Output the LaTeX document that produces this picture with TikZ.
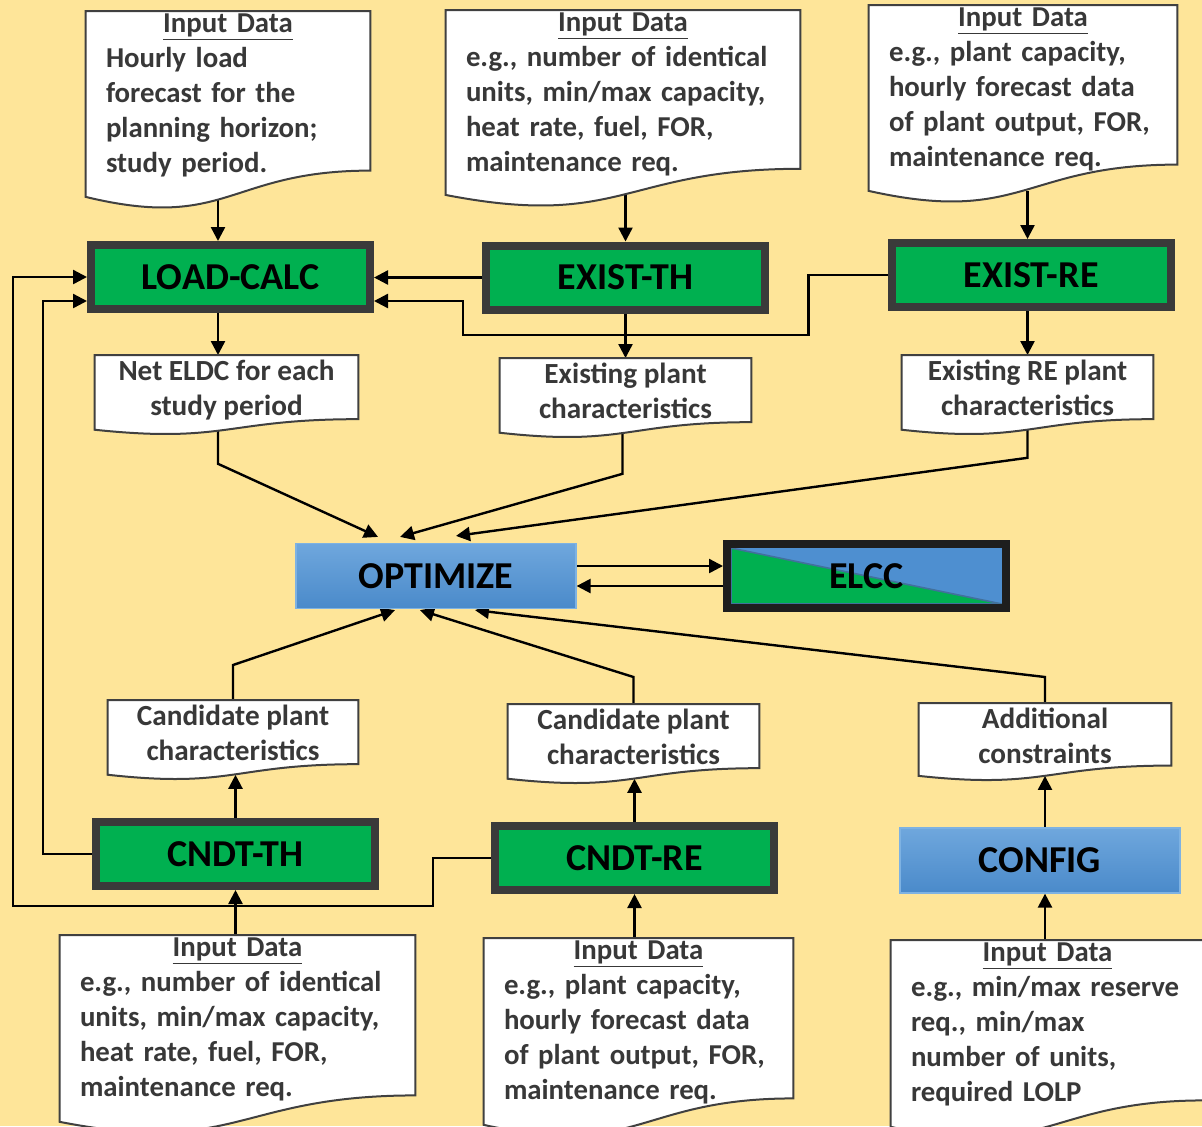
\documentclass[tikz,border=0pt]{standalone}
\usepackage{fontspec}
\setmainfont{Carlito}
\usetikzlibrary{shapes,arrows.meta,calc,positioning}
\setlength{\parindent}{0pt}
\definecolor{paper}{HTML}{FEE599}
\definecolor{boxgreen}{HTML}{00B050}
\definecolor{boxrim}{HTML}{3A3A3A}
\definecolor{elccrim}{HTML}{1E1E1E}
\definecolor{elccblue}{HTML}{4E8FD0}
\definecolor{steel}{HTML}{41719C}
\definecolor{bluetop}{HTML}{6FA7DD}
\definecolor{bluebot}{HTML}{4A8ACA}
\definecolor{bluerim}{HTML}{7EB2E2}
\definecolor{docrim}{HTML}{404040}
\definecolor{doctext}{HTML}{383838}
\pgfdeclarelayer{background}
\pgfdeclarelayer{lines}
\pgfdeclarelayer{docs}
\pgfsetlayers{background,lines,docs,main}
\tikzstyle{block} = [draw=boxrim, line width=4pt, fill=boxgreen, rectangle, minimum width=139.5pt, minimum height=32pt, font=\fontsize{19}{22}\selectfont\bfseries]
\tikzstyle{optbox} = [draw=bluerim, line width=0.6pt, top color=bluetop, bottom color=bluebot, rectangle, minimum width=140pt, minimum height=32.5pt, font=\fontsize{19}{22}\selectfont\bfseries]
\tikzstyle{indata} = [anchor=north, inner xsep=10pt, inner ysep=1pt, text=doctext, font=\fontsize{14.4}{17.5}\selectfont\bfseries]
\tikzstyle{outdata} = [anchor=north, inner xsep=0pt, inner ysep=2.5pt, align=center, text=doctext, font=\fontsize{14.6}{17.5}\selectfont\bfseries]
\tikzstyle{line} = [draw=black, line width=1.2pt]
% wavy document outline behind a node, #2 = full height
\newcommand{\wavedoc}[2]{%
	\begin{pgfonlayer}{docs}
	\draw[draw=docrim, fill=white, line width=1pt] (#1.north west) -- (#1.north east) -- ++(0,0.802*#2)
		.. controls ($(#1.north)+(0,0.802*#2)$) and ($(#1.north)+(0,1.1075*#2)$) .. ($(#1.north west)+(0,0.934*#2)$) -- cycle;
	\end{pgfonlayer}
	\coordinate (#1-b) at ($(#1.north)+(0,0.935*#2)$);}
\begin{document}
\begin{tikzpicture}[x=0.5pt, y=-0.5pt, >={Triangle[length=7pt,width=7pt]}]
	\useasboundingbox (0,0) rectangle (1202,1126);
	\begin{pgfonlayer}{background}
	\fill[paper] (0,0) rectangle (1202,1126);
	\end{pgfonlayer}

	% INPUT DATA
	\node[indata, text width=122pt] (in1) at (228,11) {{\centering\underline{Input Data}\par}
		\hbox{Hourly load}\hbox{forecast for the}\hbox{planning horizon;}\hbox{study period.}};
	\node[indata, text width=157pt] (in2) at (623,10) {{\centering\underline{Input Data}\par}
		\hbox{e.g., number of identical}\hbox{units, min/max capacity,}\hbox{heat rate, fuel, FOR,}\hbox{maintenance req.}};
	\node[indata, text width=134pt] (in3) at (1023,5) {{\centering\underline{Input Data}\par}
		\hbox{e.g., plant capacity,}\hbox{hourly forecast data}\hbox{of plant output, FOR,}\hbox{maintenance req.}};
	\wavedoc{in1}{199}
	\wavedoc{in2}{198}
	\wavedoc{in3}{199}

	% EXISTING SYSTEM
	\node[block] (loadcalc) at (230.5,277) {LOAD-CALC};
	\node[block] (existth) at (625.5,277.5) {EXIST-TH};
	\node[block] (existre) at (1031,275) {EXIST-RE};
	\coordinate (colload) at (218,0);

	\node[outdata, minimum width=131.5pt] (neteldc) at (226.5,355) {Net ELDC for each\\study period};
	\node[outdata, minimum width=125.5pt] (existpl) at (625.5,358) {Existing plant\\characteristics};
	\node[outdata, minimum width=125.5pt] (existrepl) at (1027.5,355) {Existing RE plant\\characteristics};
	\wavedoc{neteldc}{80}
	\wavedoc{existpl}{80}
	\wavedoc{existrepl}{80}

	% OPTIMIZATION
	\node[optbox] (optimize) at (436,576) {OPTIMIZE};
	\node[block, draw=elccrim, fill=elccblue, path picture={
		\filldraw[fill=boxgreen, draw=steel, line width=0.8pt] ($(path picture bounding box.north west)+(2pt,-2pt)$) -- ($(path picture bounding box.south west)+(2pt,2pt)$) -- ($(path picture bounding box.south east)+(-2pt,2pt)$) -- cycle;
	}] (elcc) at (866.5,576) {ELCC};

	% CANDIDATES
	\node[outdata, minimum width=125pt] (cand1) at (233,700) {Candidate plant\\characteristics};
	\node[outdata, minimum width=125.5pt] (cand2) at (633.5,704) {Candidate plant\\characteristics};
	\node[outdata, minimum width=126pt] (addcons) at (1045,703) {Additional\\constraints};
	\wavedoc{cand1}{80}
	\wavedoc{cand2}{80}
	\wavedoc{addcons}{78}

	\node[block] (cndtth) at (235.5,854) {CNDT-TH};
	\node[block] (cndtre) at (634.5,858) {CNDT-RE};
	\node[optbox] (config) at (1040,860.5) {CONFIG};

	\node[indata, text width=157.5pt] (in4) at (237.5,935) {{\centering\underline{Input Data}\par}
		\hbox{e.g., number of identical}\hbox{units, min/max capacity,}\hbox{heat rate, fuel, FOR,}\hbox{maintenance req.}};
	\node[indata, text width=134.5pt] (in5) at (638.5,938) {{\centering\underline{Input Data}\par}
		\hbox{e.g., plant capacity,}\hbox{hourly forecast data}\hbox{of plant output, FOR,}\hbox{maintenance req.}};
	\node[indata, text width=136.5pt] (in6) at (1047.5,940) {{\centering\underline{Input Data}\par}
		\hbox{e.g., min/max reserve}\hbox{req., min/max}\hbox{number of units,}\hbox{required LOLP}};
	\wavedoc{in4}{200}
	\wavedoc{in5}{200}
	\wavedoc{in6}{200}

	% CONNECTIONS
	\begin{pgfonlayer}{lines}
	\draw [line,->] (in1-b -| colload) -- (loadcalc.north -| colload);
	\draw [line,->] (in2-b -| existth) -- (existth.north);
	\draw [line,->] (in3-b -| existrepl) -- (existre.north -| existrepl);
	\draw [line,->] (loadcalc.south -| colload) -- (neteldc.north -| colload);
	\draw [line,->] (existth.south) -- (existpl.north -| existth);
	\draw [line,->] (existre.south -| existrepl) -- (existrepl.north);

	\draw [line,->] (existth.west) -- (existth.west -| loadcalc.east);
	\draw [line,->] (existre.west) -- ++(-79,0) -- ++(0,60) -| ($(loadcalc.east)+(89,24)$) -- ($(loadcalc.east)+(0,24)$);
	\draw [line,->] (cndtth.west) -| ($(loadcalc.west)+(-44,24)$) -- ($(loadcalc.west)+(0,24)$);
	\draw [line,->] (cndtre.west) -- ++(-58,0) -- ++(0,48) -| ($(loadcalc.west)+(-74,0)$) -- (loadcalc.west);

	\draw [line,->] (neteldc-b -| colload) -- ++(0,34) -- ($(optimize.north)+(-58,-6)$);
	\draw [line,->] ($(existpl-b)+(-3,0)$) -- ++(0,41) -- ($(optimize.north)+(-36,-6)$);
	\draw [line,->] (existrepl-b) -- ++(0,28) -- ($(optimize.north)+(20,-7)$);
	\draw [line,->] (cand1.north) -- ++(0,-35) -- ($(optimize.south)+(-41,1)$);
	\draw [line,->] (cand2.north) -- ++(0,-27) -- ($(optimize.south)+(-16,1)$);
	\draw [line,->] (addcons.north) -- ++(0,-26) -- ($(optimize.south)+(39,1)$);
	\draw [line,->] ($(optimize.east)+(0,-10)$) -- ($(elcc.west)+(0,-10)$);
	\draw [line,->] ($(elcc.west)+(0,10)$) -- ($(optimize.east)+(0,10)$);

	\draw [line,->] (cndtth.north) -- (cand1-b -| cndtth);
	\draw [line,->] (in4.north -| cndtth) -- (cndtth.south);
	\draw [line,->] (cndtre.north) -- (cand2-b -| cndtre);
	\draw [line,->] (in5.north -| cndtre) -- (cndtre.south);
	\draw [line,->] (config.north -| addcons) -- (addcons-b);
	\draw [line,->] (in6.north -| addcons) -- (config.south -| addcons);
	\end{pgfonlayer}
\end{tikzpicture}
\end{document}
